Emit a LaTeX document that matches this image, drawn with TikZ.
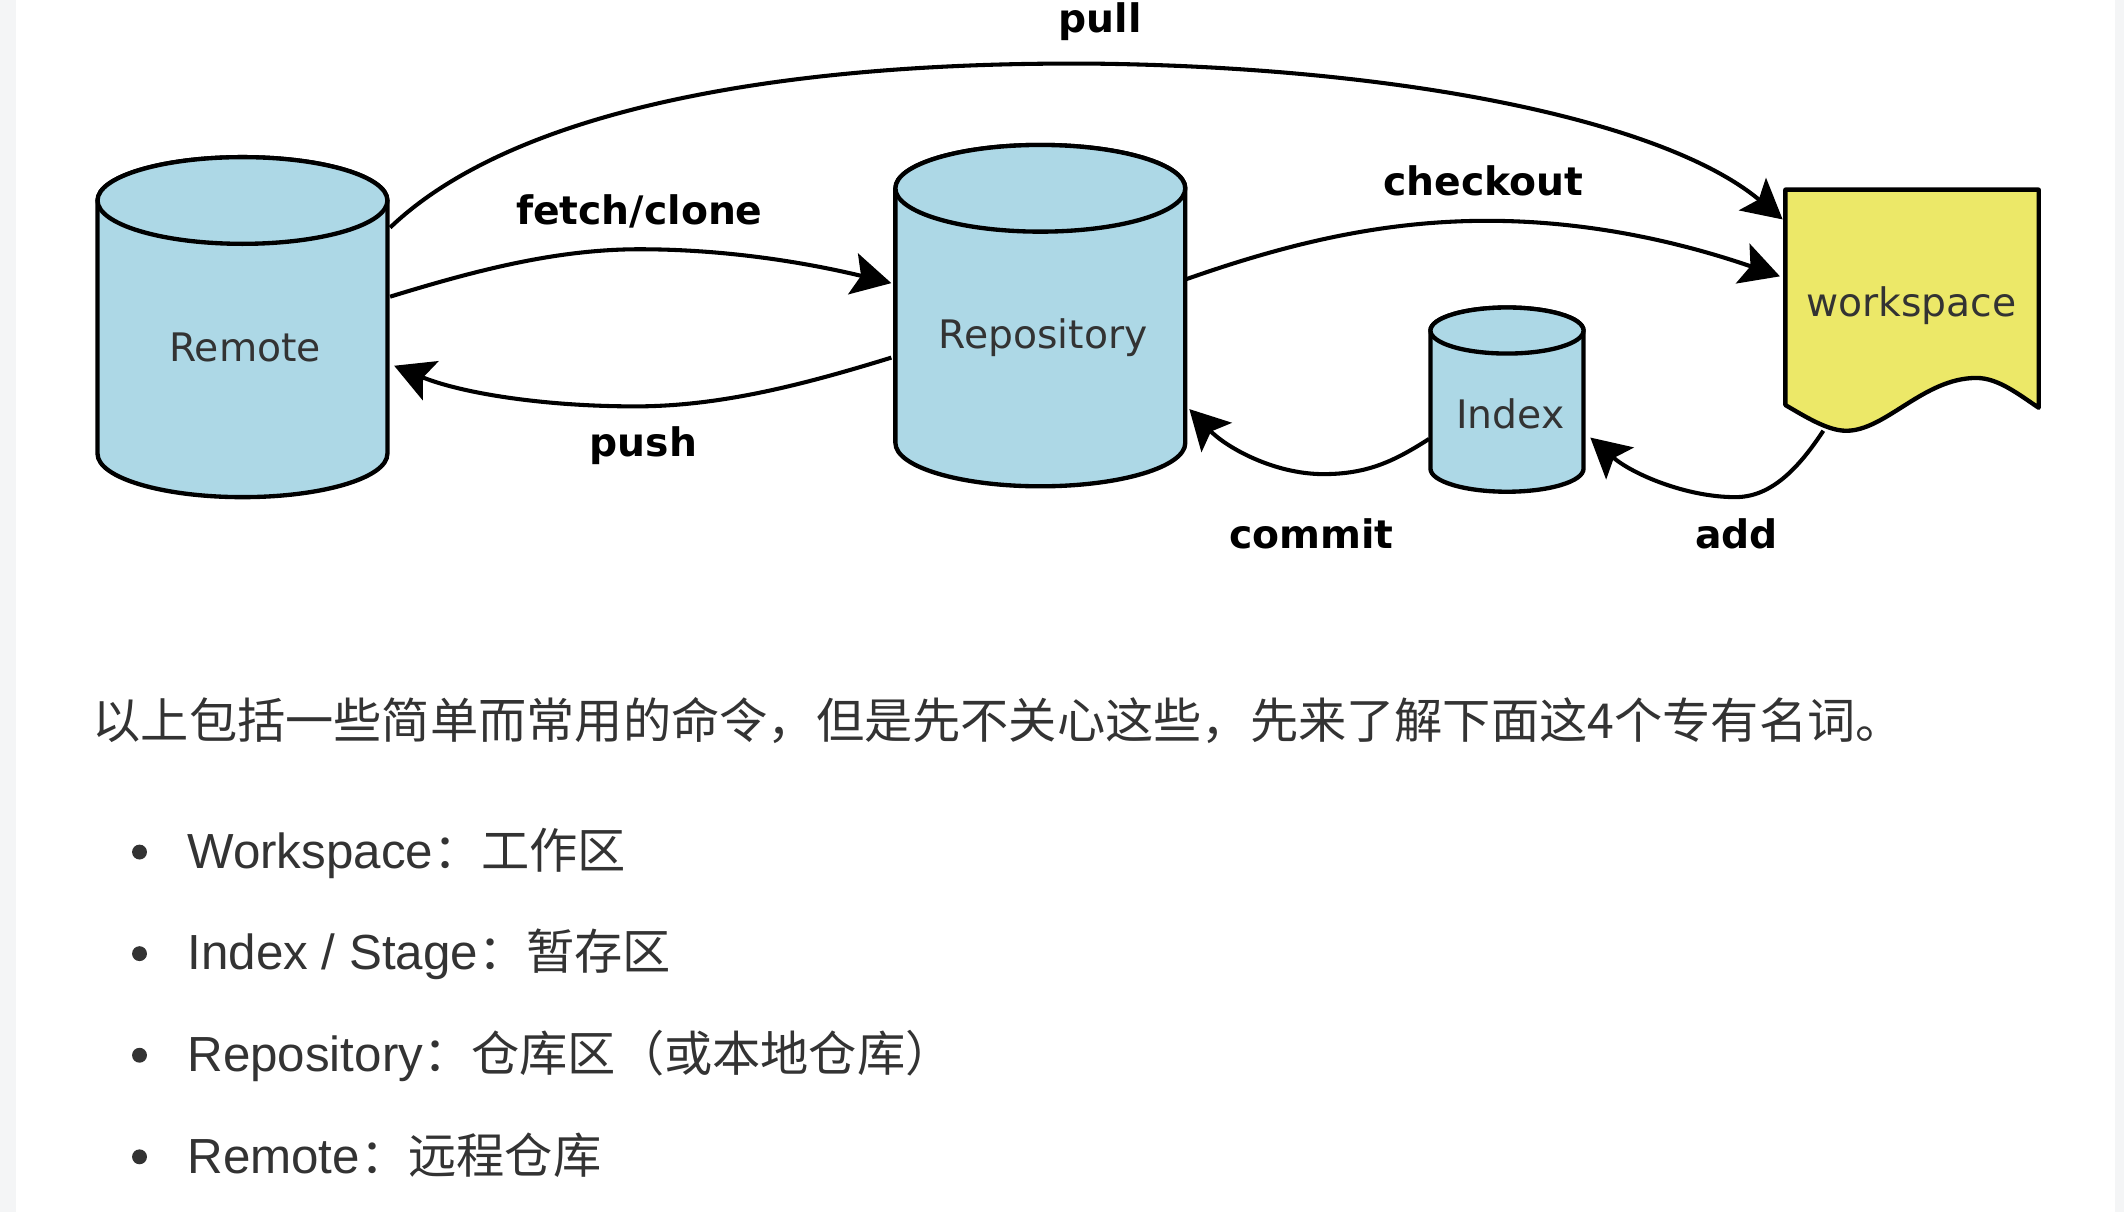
\documentclass[tikz,border=0pt]{standalone}
\usepackage{fontspec}
\setmainfont{DejaVu Sans}
\newfontfamily\cjkfont{Noto Sans CJK SC}
\newfontfamily\latinfont{Liberation Sans}
\usetikzlibrary{arrows.meta}
\definecolor{cylblue}{RGB}{173,216,230}
\definecolor{wsyellow}{RGB}{236,232,104}
\definecolor{txtgray}{RGB}{51,51,51}
\definecolor{edgegray}{RGB}{244,245,246}
\newcommand\gitcyl[5]{%
  \path[cylfill] ({#1-#4},#2) -- ({#1-#4},#3)
    arc[start angle=180,end angle=0,x radius=#4,y radius=#5]
    -- ({#1+#4},#2)
    arc[start angle=0,end angle=-180,x radius=#4,y radius=#5] -- cycle;
  \path[cylfill] (#1,#2) ellipse[x radius=#4,y radius=#5];
}
\newcommand\zhtxt[1]{{\cjkfont\fontsize{17.8pt}{21pt}\selectfont #1}}
\newcommand\latxt[1]{{\latinfont\fontsize{18.2pt}{21pt}\selectfont #1}}
\begin{document}
\begin{tikzpicture}[x=0.5pt,y=-0.5pt,
  shapeline/.style={draw=black,line width=1.6pt,line join=round},
  cylfill/.style={shapeline,fill=cylblue},
  lbl/.style={font=\fontsize{14.5pt}{17pt}\selectfont,text=txtgray,inner sep=0pt,anchor=base},
  cmd/.style={font=\fontsize{14.5pt}{17pt}\selectfont\bfseries,text=black,inner sep=0pt,anchor=base},
  conn/.style={draw=black,line width=1.5pt,-{Stealth[length=14.5pt,width=15.5pt,inset=3pt]}},
  body/.style={inner sep=0pt,anchor=base west,text=txtgray},
  bullet/.style={fill=txtgray}
]
% page
\fill[white] (0,0) rectangle (1568,895);
\fill[edgegray] (0,0) rectangle (11.5,895);
\fill[edgegray] (1561,0) rectangle (1568,895);
\useasboundingbox (0,0) rectangle (1568,895);

% shapes
\gitcyl{179}{148}{335}{107}{32}
\gitcyl{768}{139}{327}{107}{32}
\gitcyl{1112.5}{244}{346}{56.5}{17}
\path[shapeline,fill=wsyellow] (1318,140) -- (1505,140) -- (1505,301)
  .. controls (1490,291) and (1475,279) .. (1459,279)
  .. controls (1420,279) and (1392,318) .. (1363,318)
  .. controls (1350,318) and (1335,309) .. (1318,299) -- cycle;

% labels of shapes
\node[lbl] (remote) at (181,267) {Remote};
\node[lbl] (repo) at (770,257) {Repository};
\node[lbl] (index) at (1115,316) {Index};
\node[lbl] (work) at (1411,234) {workspace};

% connection points
\coordinate (remPull) at (288,168);
\coordinate (remFetch) at (288,219);
\coordinate (remPush) at (291,270);
\coordinate (repoFetch) at (658,209);
\coordinate (repoPush) at (658,264);
\coordinate (repoCheckout) at (876,206);
\coordinate (repoCommit) at (878,302);
\coordinate (idxCommit) at (1055,324);
\coordinate (idxAdd) at (1174,323);
\coordinate (wsPull) at (1316,162);
\coordinate (wsCheckout) at (1314,204);
\coordinate (wsAdd) at (1346,318);

% connectors
\draw[conn] (remPull) .. controls (380,80) and (580,45) .. (810,47)
  .. controls (1040,50) and (1230,90) .. (wsPull);
\draw[conn] (remFetch) .. controls (350,200) and (410,184) .. (472,184)
  .. controls (540,184) and (600,195) .. (repoFetch);
\draw[conn] (repoPush) .. controls (590,285) and (530,300) .. (469,300)
  .. controls (400,300) and (340,290) .. (remPush);
\draw[conn] (repoCheckout) .. controls (950,180) and (1020,163) .. (1098,163)
  .. controls (1180,163) and (1250,182) .. (wsCheckout);
\draw[conn] (idxCommit) .. controls (1030,340) and (1010,350) .. (977,350)
  .. controls (940,350) and (905,330) .. (repoCommit);
\draw[conn] (wsAdd) .. controls (1325,350) and (1305,367) .. (1281,367)
  .. controls (1245,367) and (1205,350) .. (idxAdd);

% command labels
\node[cmd] (lpull) at (812,24) {pull};
\node[cmd] (lfetch) at (472,166) {fetch/clone};
\node[cmd] (lpush) at (475,337) {push};
\node[cmd] (lcheckout) at (1095,144) {checkout};
\node[cmd] (lcommit) at (968,405) {commit};
\node[cmd] (ladd) at (1282,405) {add};

% text below
\node[body] (intro) at (68,545) {\zhtxt{以上包括一些简单而常用的命令，但是先不关心这些，先来了解下面这4个专有名词。}};
\fill[bullet] (103,629) circle[radius=5.5];
\fill[bullet] (103,704) circle[radius=5.5];
\fill[bullet] (103,779) circle[radius=5.5];
\fill[bullet] (103,854) circle[radius=5.5];
\node[body] (item1) at (138,641) {\latxt{Workspace}\zhtxt{：工作区}};
\node[body] (item2) at (138,716) {\latxt{Index / Stage}\zhtxt{：暂存区}};
\node[body] (item3) at (138,791) {\latxt{Repository}\zhtxt{：仓库区（或本地仓库）}};
\node[body] (item4) at (138,866) {\latxt{Remote}\zhtxt{：远程仓库}};
\end{tikzpicture}
\end{document}
